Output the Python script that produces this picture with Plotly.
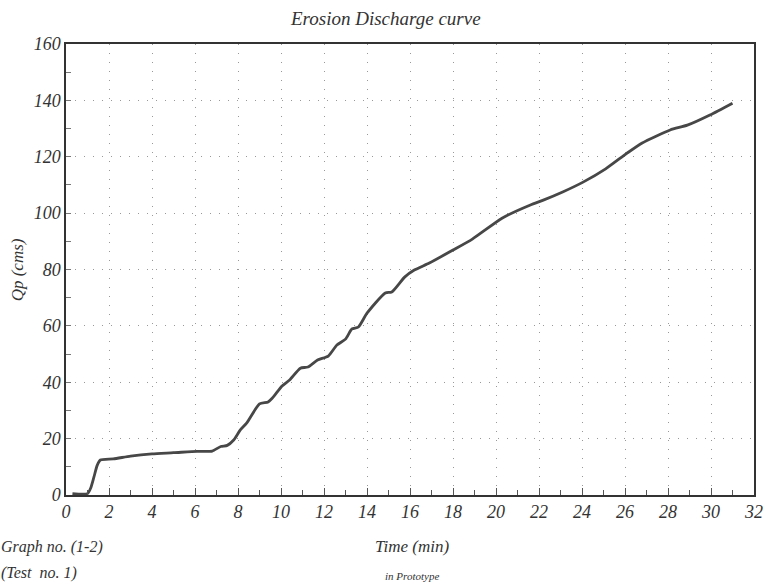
import plotly.graph_objects as go

time_min = [0.3, 1.0, 1.15, 1.3, 1.45, 1.6, 2.2, 3.0, 4.0, 5.0, 6.1, 6.8, 7.2, 7.5, 7.8, 8.1, 8.4, 9.0, 9.4, 9.6,
            10.05, 10.4, 10.9, 11.25, 11.7, 12.2, 12.6, 13.0, 13.3, 13.6, 14.0, 14.85, 15.15, 15.75, 16.2, 16.9,
            18.0, 18.9, 20.3, 21.6, 22.2, 23.1, 24.05, 25.1, 26.1, 26.8, 28.1, 28.9, 29.95, 31.0]
qp_cms = [0.5, 0.5, 2.5, 6.4, 10.5, 12.4, 12.8, 13.8, 14.6, 15.0, 15.5, 15.6, 17.2, 17.6, 19.5, 23, 25.5, 32.3, 33, 34.4,
          38.7, 40.8, 45, 45.4, 47.9, 49.3, 53.2, 55.3, 58.9, 59.6, 64.5, 71.7, 72, 77.3, 79.8, 82.3,
          86.9, 90.8, 98.3, 102.9, 104.6, 107.5, 111, 115.7, 121.3, 124.9, 129.5, 131.2, 134.8, 139]

x_ticks = list(range(0, 33, 2))
y_ticks = list(range(0, 161, 20))

FONT = "Liberation Serif"
tickfont = dict(family=FONT, size=18, color="#333")

fig = go.Figure()
fig.add_trace(go.Scatter(x=time_min, y=qp_cms, mode="lines",
                         line=dict(color="#474747", width=2.8, shape="spline", smoothing=0.6),
                         showlegend=False, hoverinfo="skip"))

axis_common = dict(showline=True, linecolor="#333", linewidth=1.5, mirror=True, automargin=False,
                   showgrid=True, gridcolor="#9a9a9a", gridwidth=1, griddash="1px,8px",
                   zeroline=False, tickfont=tickfont, ticks="inside", tickcolor="#555")

fig.update_xaxes(range=[0, 32], tickvals=x_ticks, ticktext=[f"<i>{v}</i>" for v in x_ticks], ticklen=7,
                 minor=dict(dtick=1, ticks="inside", ticklen=5, tickcolor="#555", showgrid=False),
                 **axis_common)
fig.update_yaxes(range=[0, 160], tickvals=y_ticks, ticktext=[f"<i>{v}</i>" for v in y_ticks], ticklen=0,
                 minor=dict(dtick=10, ticks="inside", ticklen=5, tickcolor="#777", showgrid=False),
                 **axis_common)

fig.update_layout(
    width=764, height=585,
    margin=dict(l=66, r=10, t=44, b=90),
    paper_bgcolor="white", plot_bgcolor="white",
    title=dict(text="<i>Erosion Discharge curve</i>", x=0.505, xanchor="center", y=0.968, yanchor="middle",
               font=dict(family=FONT, size=19, color="#333")),
    annotations=[
        dict(text="<i>Qp (cms)</i>", xref="paper", yref="paper", x=-0.07, y=0.5, showarrow=False,
             textangle=-90, xanchor="center", yanchor="middle",
             font=dict(family=FONT, size=17, color="#333")),
        dict(text="<i>Time (min)</i>", xref="paper", yref="paper", x=0.503, y=-0.115, showarrow=False,
             xanchor="center", yanchor="middle", font=dict(family=FONT, size=17, color="#333")),
        dict(text="<i>in Prototype</i>", xref="paper", yref="paper", x=0.503, y=-0.18, showarrow=False,
             xanchor="center", yanchor="middle", font=dict(family=FONT, size=11, color="#333")),
        dict(text="<i>Graph no. (1-2)</i>", xref="paper", yref="paper", x=-0.097, y=-0.115, showarrow=False,
             xanchor="left", yanchor="middle", font=dict(family=FONT, size=16, color="#333")),
        dict(text="<i>(Test  no. 1)</i>", xref="paper", yref="paper", x=-0.097, y=-0.172, showarrow=False,
             xanchor="left", yanchor="middle", font=dict(family=FONT, size=16, color="#333")),
    ],
)

fig.write_html("out.html", config={"displayModeBar": False},
               post_script="document.body.style.margin='0';")
